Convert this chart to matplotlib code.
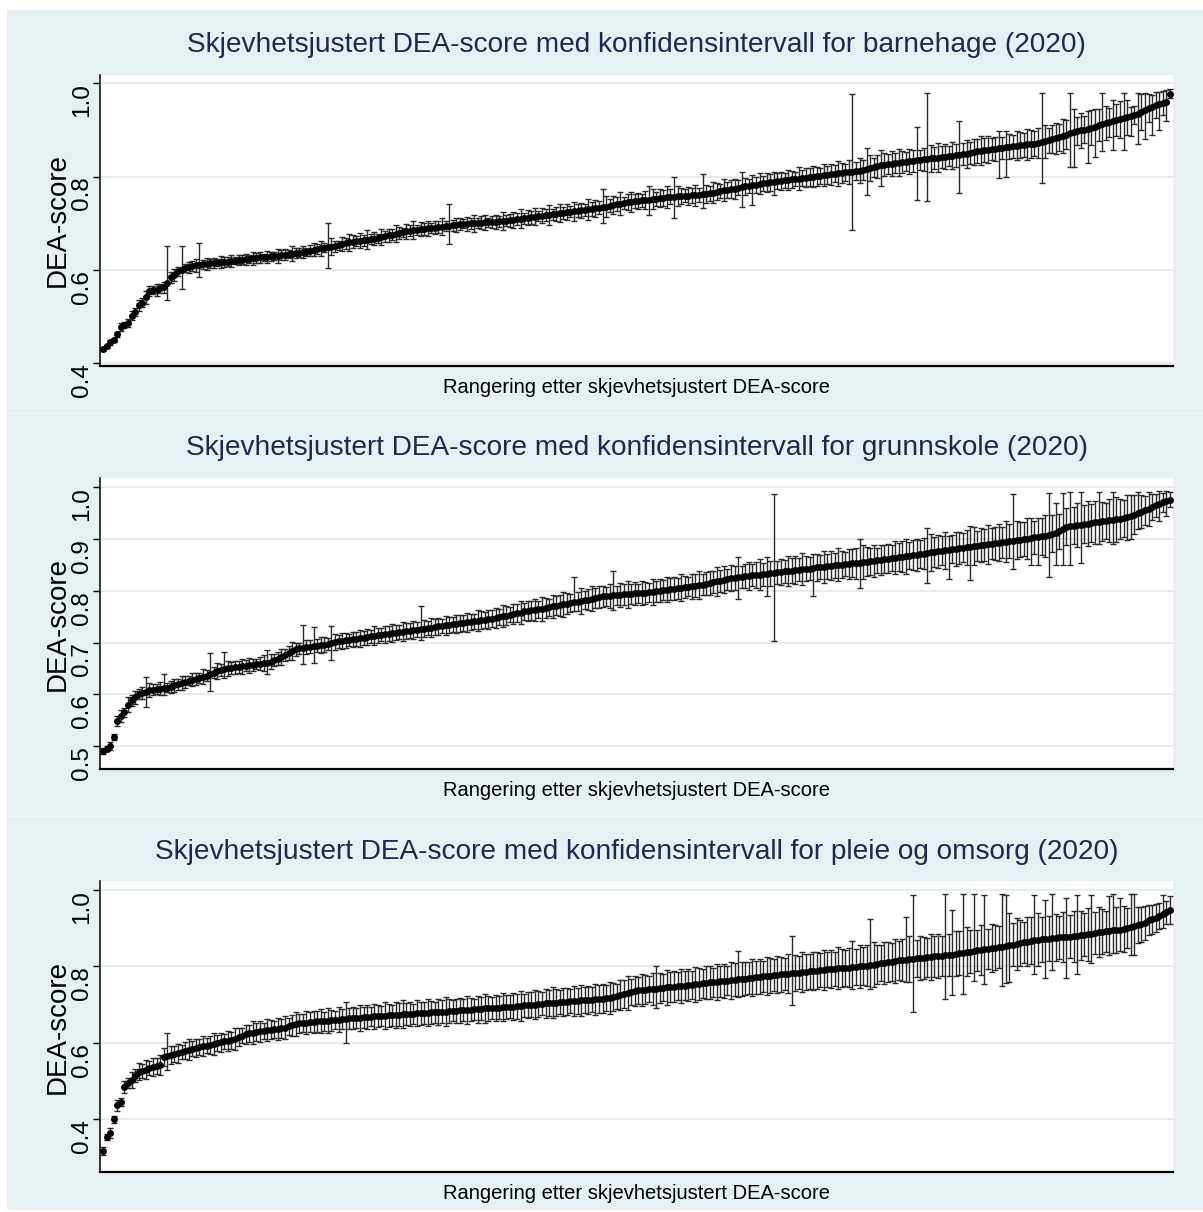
import numpy as np
import matplotlib
matplotlib.use("Agg")
import matplotlib.pyplot as plt
from matplotlib import font_manager
from matplotlib.patches import Rectangle

# ---------------- DATA (values in thousandths of a DEA-score) ----------------
titles = [
    "Skjevhetsjustert DEA-score med konfidensintervall for barnehage (2020)",
    "Skjevhetsjustert DEA-score med konfidensintervall for grunnskole (2020)",
    "Skjevhetsjustert DEA-score med konfidensintervall for pleie og omsorg (2020)",
]
x_label = "Rangering etter skjevhetsjustert DEA-score"
y_label = "DEA-score"

ticks_barnehage = [0.4, 0.6, 0.8, 1.0]
ticks_grunnskole = [0.5, 0.6, 0.7, 0.8, 0.9, 1.0]
ticks_pleie = [0.4, 0.6, 0.8, 1.0]

barnehage_score = [
    430, 436, 445, 450, 462, 478, 482, 486, 502, 510,
    524, 530, 541, 555, 557, 558, 561, 563, 572, 584,
    590, 597, 600, 604, 606, 608, 610, 611, 612, 613,
    614, 615, 616, 617, 617, 618, 619, 620, 621, 622,
    623, 624, 625, 626, 627, 627, 628, 629, 630, 631,
    632, 633, 634, 635, 636, 637, 638, 639, 641, 643,
    645, 647, 648, 649, 650, 651, 653, 655, 657, 659,
    661, 662, 663, 664, 665, 666, 667, 668, 670, 672,
    674, 676, 678, 680, 681, 683, 684, 685, 686, 687,
    688, 689, 690, 691, 692, 693, 694, 695, 696, 697,
    698, 699, 699, 700, 700, 701, 701, 702, 702, 703,
    703, 704, 705, 706, 707, 708, 709, 710, 711, 712,
    713, 714, 715, 716, 717, 718, 719, 720, 722, 723,
    724, 725, 726, 727, 728, 729, 730, 731, 732, 733,
    734, 736, 738, 740, 741, 742, 744, 745, 746, 747,
    748, 749, 750, 751, 752, 753, 754, 755, 756, 757,
    757, 758, 758, 759, 759, 760, 760, 761, 762, 763,
    764, 766, 768, 770, 771, 772, 773, 774, 776, 778,
    779, 781, 782, 783, 785, 786, 787, 788, 789, 790,
    791, 792, 793, 794, 795, 796, 797, 798, 799, 800,
    801, 802, 803, 804, 805, 806, 807, 808, 809, 810,
    811, 812, 813, 814, 816, 818, 820, 822, 824, 826,
    827, 828, 829, 830, 831, 832, 833, 834, 835, 836,
    837, 838, 839, 840, 841, 842, 843, 844, 845, 846,
    847, 848, 849, 851, 853, 855, 856, 857, 858, 859,
    860, 861, 862, 863, 864, 865, 866, 867, 868, 869,
    870, 871, 872, 874, 876, 878, 880, 882, 884, 887,
    890, 893, 895, 897, 899, 901, 903, 905, 907, 910,
    913, 915, 917, 919, 921, 923, 925, 927, 929, 932,
    935, 939, 943, 947, 950, 953, 956, 958, 961, 978,
]
barnehage_halfwidth = [
    3, 4, 5, 4, 6, 9, 7, 8, 10, 9,
    12, 10, 14, 11, 9, 13, 10, 12, 15, 11,
    13, 10, 15, 9, 12, 11, 14, 13, 10, 12,
    9, 11, 8, 12, 10, 9, 13, 8, 11, 10,
    12, 9, 14, 10, 11, 8, 13, 10, 9, 15,
    10, 12, 9, 16, 11, 10, 13, 9, 12, 14,
    11, 16, 10, 13, 18, 12, 10, 15, 11, 19,
    13, 10, 16, 12, 20, 11, 14, 10, 17, 12,
    14, 11, 18, 13, 10, 16, 12, 19, 11, 15,
    12, 17, 10, 14, 13, 18, 11, 16, 12, 15,
    13, 10, 15, 12, 18, 11, 14, 16, 10, 13,
    15, 12, 19, 11, 14, 17, 13, 20, 12, 16,
    14, 18, 11, 16, 13, 21, 12, 15, 19, 13,
    17, 12, 20, 14, 16, 13, 22, 15, 18, 14,
    16, 23, 14, 19, 15, 25, 13, 17, 21, 15,
    18, 14, 20, 16, 22, 15, 19, 17, 24, 16,
    15, 21, 17, 14, 19, 16, 23, 15, 18, 20,
    16, 22, 18, 15, 24, 17, 19, 21, 16, 20,
    18, 15, 21, 17, 23, 16, 20, 18, 25, 17,
    19, 16, 22, 18, 15, 24, 17, 20, 19, 23,
    20, 17, 24, 19, 22, 18, 26, 21, 19, 25,
    23, 20, 27, 22, 19, 28, 21, 25, 20, 24,
    22, 26, 21, 29, 24, 20, 27, 23, 30, 22,
    25, 21, 28, 24, 31, 23, 26, 22, 29, 25,
    27, 24, 30, 23, 28, 26, 32, 25, 29, 24,
    26, 30, 24, 33, 27, 25, 31, 28, 26, 34,
    29, 26, 32, 28, 35, 27, 30, 33, 28, 36,
    31, 28, 35, 30, 37, 29, 33, 38, 30, 34,
    33, 36, 31, 39, 34, 40, 32, 37, 35, 20,
    36, 39, 34, 30, 32, 28, 26, 25, 22, 10,
]
# (rank index, lower bound, upper bound) for the visibly wide intervals
barnehage_wide_ci = [
    (18, 535, 652), (22, 560, 652), (27, 585, 657), (63, 604, 700),
    (97, 656, 742), (140, 700, 774), (153, 718, 779), (160, 712, 800),
    (168, 733, 806), (179, 736, 811), (182, 740, 804), (188, 761, 810),
    (210, 686, 978), (214, 761, 862), (218, 780, 857), (228, 750, 907),
    (231, 748, 980), (240, 765, 920), (251, 798, 897), (253, 800, 897),
    (263, 787, 979), (271, 820, 979), (272, 820, 944), (276, 830, 940),
    (278, 843, 946), (280, 854, 980), (283, 858, 965), (286, 858, 980),
    (288, 887, 950), (290, 869, 980), (292, 880, 980), (294, 890, 975),
    (296, 900, 982), (298, 920, 985),
]

grunnskole_score = [
    490, 495, 500, 518, 548, 558, 565, 580, 588, 594,
    600, 602, 605, 608, 609, 610, 611, 612, 613, 614,
    617, 619, 622, 624, 626, 628, 630, 632, 634, 636,
    639, 642, 645, 647, 649, 650, 651, 652, 653, 654,
    655, 656, 657, 658, 659, 660, 661, 663, 666, 669,
    672, 676, 680, 684, 687, 689, 690, 691, 692, 693,
    694, 695, 696, 697, 699, 701, 702, 703, 704, 705,
    706, 707, 708, 709, 711, 712, 713, 714, 715, 716,
    717, 718, 719, 720, 721, 722, 723, 724, 725, 726,
    727, 728, 729, 730, 731, 732, 733, 734, 735, 736,
    737, 738, 739, 740, 741, 742, 743, 744, 745, 746,
    748, 749, 751, 752, 754, 755, 757, 758, 760, 761,
    762, 763, 764, 765, 767, 768, 770, 771, 772, 774,
    775, 776, 778, 779, 780, 782, 783, 785, 786, 788,
    789, 789, 790, 791, 791, 792, 793, 793, 794, 795,
    795, 796, 796, 797, 798, 799, 800, 801, 802, 803,
    804, 805, 806, 807, 808, 809, 810, 811, 812, 814,
    815, 817, 818, 819, 821, 822, 824, 825, 826, 827,
    828, 829, 830, 830, 831, 832, 833, 834, 835, 836,
    837, 838, 838, 839, 840, 841, 842, 843, 843, 844,
    845, 846, 846, 847, 848, 849, 850, 850, 851, 852,
    853, 853, 854, 855, 856, 857, 858, 859, 860, 861,
    862, 863, 864, 865, 866, 867, 868, 869, 870, 871,
    872, 873, 874, 875, 876, 877, 878, 879, 880, 881,
    882, 883, 884, 885, 886, 887, 888, 889, 890, 891,
    892, 893, 894, 895, 896, 897, 898, 899, 900, 901,
    902, 903, 904, 905, 906, 908, 910, 911, 915, 920,
    924, 925, 926, 927, 928, 929, 930, 931, 932, 933,
    934, 935, 936, 937, 938, 939, 940, 942, 944, 947,
    950, 953, 956, 959, 962, 965, 968, 971, 973, 976,
]
grunnskole_halfwidth = [
    6, 5, 7, 6, 10, 12, 9, 14, 11, 13,
    10, 12, 9, 14, 11, 10, 13, 12, 9, 11,
    12, 10, 14, 11, 9, 13, 12, 10, 15, 11,
    13, 11, 16, 12, 10, 14, 11, 13, 12, 15,
    11, 14, 12, 10, 13, 16, 12, 14, 11, 13,
    15, 12, 14, 17, 13, 11, 16, 14, 12, 15,
    13, 16, 14, 12, 17, 15, 13, 16, 14, 12,
    15, 13, 17, 14, 16, 12, 18, 15, 13, 16,
    14, 17, 15, 13, 18, 16, 14, 17, 15, 19,
    16, 14, 18, 15, 17, 13, 19, 16, 14, 18,
    17, 15, 19, 16, 14, 20, 17, 15, 18, 16,
    19, 16, 21, 18, 15, 20, 17, 22, 16, 19,
    18, 21, 16, 23, 19, 17, 22, 18, 20, 24,
    20, 17, 23, 19, 25, 18, 21, 24, 19, 22,
    21, 19, 24, 20, 18, 23, 21, 26, 20, 22,
    19, 23, 21, 18, 25, 20, 22, 19, 24, 21,
    22, 20, 26, 21, 19, 24, 22, 27, 20, 23,
    24, 21, 28, 22, 26, 20, 25, 23, 29, 21,
    23, 27, 21, 25, 30, 22, 26, 24, 28, 22,
    25, 22, 29, 24, 27, 23, 31, 25, 22, 28,
    26, 23, 30, 25, 28, 24, 32, 26, 23, 29,
    27, 30, 25, 33, 28, 26, 31, 24, 29, 27,
    28, 25, 32, 27, 30, 34, 26, 29, 31, 27,
    30, 27, 35, 29, 32, 28, 36, 30, 27, 33,
    31, 28, 34, 30, 37, 29, 33, 31, 38, 30,
    32, 36, 30, 39, 33, 31, 37, 34, 32, 40,
    34, 31, 38, 35, 41, 33, 36, 39, 34, 42,
    36, 40, 35, 43, 38, 37, 44, 36, 41, 39,
    38, 35, 42, 37, 44, 39, 36, 43, 40, 38,
    30, 32, 28, 26, 25, 22, 20, 18, 16, 14,
]
grunnskole_wide_ci = [
    (12, 575, 634), (17, 598, 639), (30, 606, 680), (34, 632, 682),
    (46, 640, 685), (56, 658, 734), (59, 660, 730), (64, 667, 731),
    (89, 705, 770), (132, 760, 827), (143, 762, 838), (178, 784, 865),
    (186, 790, 865), (188, 703, 987), (199, 790, 872), (212, 805, 900),
    (231, 815, 921), (237, 823, 905), (243, 820, 925), (255, 842, 987),
    (260, 850, 940), (262, 850, 940), (265, 826, 989), (267, 850, 970),
    (269, 850, 989), (271, 850, 990), (274, 854, 990), (279, 890, 990),
    (283, 890, 990), (288, 900, 985), (290, 920, 990), (293, 925, 990),
    (296, 935, 992), (298, 945, 992),
]

pleie_score = [
    317, 354, 364, 400, 437, 445, 485, 495, 503, 514,
    524, 527, 530, 534, 537, 540, 542, 563, 565, 568,
    571, 573, 576, 579, 582, 585, 587, 589, 591, 593,
    595, 597, 600, 602, 604, 605, 607, 611, 615, 619,
    622, 625, 627, 629, 630, 632, 633, 634, 635, 636,
    638, 640, 643, 646, 649, 651, 652, 653, 654, 655,
    656, 657, 657, 658, 659, 660, 661, 662, 663, 664,
    665, 665, 666, 667, 668, 668, 669, 670, 670, 671,
    672, 672, 673, 674, 675, 675, 676, 676, 677, 678,
    678, 679, 680, 680, 681, 682, 682, 683, 684, 684,
    685, 686, 686, 687, 688, 688, 689, 690, 690, 691,
    692, 692, 693, 694, 695, 695, 696, 697, 698, 699,
    700, 700, 701, 702, 703, 704, 705, 705, 706, 707,
    708, 709, 709, 710, 711, 712, 712, 713, 714, 715,
    716, 717, 718, 720, 722, 725, 728, 731, 733, 735,
    737, 738, 739, 740, 741, 742, 743, 744, 745, 746,
    747, 748, 749, 750, 751, 752, 753, 754, 756, 757,
    758, 759, 760, 761, 762, 763, 764, 765, 766, 767,
    768, 770, 771, 772, 773, 774, 775, 776, 777, 778,
    779, 780, 781, 782, 783, 784, 785, 786, 787, 788,
    789, 790, 791, 792, 793, 794, 795, 796, 796, 797,
    798, 799, 800, 801, 802, 803, 805, 806, 808, 809,
    811, 812, 814, 816, 817, 818, 819, 820, 821, 822,
    823, 824, 825, 826, 827, 828, 829, 830, 831, 833,
    835, 836, 838, 839, 840, 842, 843, 845, 846, 848,
    849, 851, 852, 854, 855, 857, 859, 861, 863, 865,
    867, 869, 870, 871, 872, 873, 874, 875, 876, 877,
    877, 878, 879, 880, 882, 883, 884, 886, 888, 890,
    891, 892, 893, 894, 895, 896, 898, 900, 903, 906,
    908, 910, 913, 921, 924, 927, 932, 937, 942, 948,
]
pleie_halfwidth = [
    10, 8, 12, 9, 14, 11, 16, 13, 20, 17,
    22, 18, 25, 19, 24, 21, 26, 23, 19, 24,
    20, 25, 18, 22, 27, 19, 24, 21, 26, 20,
    23, 28, 21, 25, 19, 27, 22, 29, 24, 20,
    26, 22, 30, 24, 27, 21, 29, 25, 23, 28,
    24, 29, 22, 27, 31, 25, 23, 30, 26, 28,
    27, 31, 25, 33, 28, 24, 32, 26, 30, 27,
    29, 26, 34, 28, 31, 25, 33, 29, 27, 35,
    30, 27, 33, 29, 36, 28, 31, 26, 34, 30,
    28, 35, 30, 27, 33, 29, 37, 31, 28, 32,
    33, 29, 36, 31, 28, 35, 30, 38, 32, 29,
    34, 30, 37, 32, 29, 36, 33, 39, 31, 35,
    32, 38, 34, 30, 37, 33, 40, 35, 31, 36,
    35, 31, 39, 34, 41, 33, 37, 32, 40, 36,
    38, 34, 42, 36, 33, 40, 37, 44, 35, 39,
    36, 41, 38, 34, 43, 37, 40, 35, 45, 39,
    40, 37, 44, 39, 42, 36, 46, 41, 38, 43,
    42, 38, 47, 40, 44, 39, 48, 43, 41, 45,
    44, 41, 49, 43, 46, 40, 50, 45, 42, 48,
    46, 42, 51, 44, 48, 43, 52, 47, 45, 50,
    48, 44, 53, 47, 50, 45, 55, 49, 46, 52,
    50, 47, 56, 49, 53, 48, 58, 51, 47, 54,
    52, 49, 58, 51, 55, 50, 60, 53, 49, 57,
    55, 51, 61, 53, 58, 52, 63, 56, 50, 59,
    57, 53, 64, 55, 60, 54, 66, 58, 52, 62,
    59, 55, 66, 57, 63, 56, 68, 60, 54, 64,
    61, 57, 69, 59, 65, 58, 70, 62, 56, 66,
    60, 56, 67, 58, 64, 57, 69, 61, 55, 65,
    58, 54, 63, 56, 61, 53, 60, 52, 57, 50,
    48, 45, 44, 40, 38, 36, 34, 32, 30, 28,
]
pleie_wide_ci = [
    (18, 529, 626), (68, 600, 707), (155, 690, 800), (178, 720, 840),
    (193, 700, 880), (210, 740, 866), (215, 740, 925), (225, 760, 930),
    (227, 680, 987), (236, 715, 990), (238, 725, 948), (241, 728, 990),
    (244, 763, 990), (247, 754, 987), (252, 750, 990), (253, 757, 988),
    (254, 760, 940), (261, 780, 987), (264, 770, 975), (266, 790, 990),
    (270, 770, 980), (273, 780, 987), (277, 810, 987), (282, 830, 985),
    (283, 834, 990), (285, 840, 980), (288, 830, 990), (289, 830, 990),
    (297, 900, 987), (299, 910, 985),
]

# ---------------- FIGURE ----------------
W, H = 1203, 1212
DPI = 100
fig = plt.figure(figsize=(W / DPI, H / DPI), dpi=DPI, facecolor="white")

names = {f.name for f in font_manager.fontManager.ttflist}
if "Liberation Sans Narrow" in names:
    NARROW = ["Liberation Sans Narrow", "DejaVu Sans"]
    title_fs, xlab_fs = 22.5, 16
else:
    NARROW = ["Liberation Sans", "DejaVu Sans"]
    title_fs, xlab_fs = 20.2, 14.5
REG = ["Liberation Sans", "DejaVu Sans"]

BG = "#e6eff1"
SEP = "#f1f6f7"


def px_rect(x0, y0, x1, y1, color):
    fig.patches.append(Rectangle((x0 / W, 1 - y1 / H), (x1 - x0) / W, (y1 - y0) / H,
                                 transform=fig.transFigure, facecolor=color,
                                 edgecolor="none", zorder=-10))


px_rect(7, 10, W, 412.5, BG)
px_rect(7, 412.5, W, 414, SEP)
px_rect(7, 414, W, 815.5, BG)
px_rect(7, 815.5, W, 817, SEP)
px_rect(7, 817, W, 1210, BG)

panels = [
    dict(score=barnehage_score, hw=barnehage_halfwidth, wide=barnehage_wide_ci,
         ticks=ticks_barnehage, top=74.5, bot=366, ylim=(0.3942, 1.0189), tb=52),
    dict(score=grunnskole_score, hw=grunnskole_halfwidth, wide=grunnskole_wide_ci,
         ticks=ticks_grunnskole, top=478, bot=769, ylim=(0.4555, 1.018), tb=455),
    dict(score=pleie_score, hw=pleie_halfwidth, wide=pleie_wide_ci,
         ticks=ticks_pleie, top=881, bot=1172, ylim=(0.2621, 1.0235), tb=859),
]

for k, p in enumerate(panels):
    left, right = 100, 1173
    ax = fig.add_axes([left / W, 1 - p["bot"] / H, (right - left) / W, (p["bot"] - p["top"]) / H])
    ax.set_zorder(5)
    ax.set_facecolor("white")
    score = np.array(p["score"], dtype=float) / 1000.0
    hw = np.array(p["hw"], dtype=float) / 1000.0
    lo = score - hw
    hi = score + hw
    for idx, l, h in p["wide"]:
        lo[idx] = l / 1000.0
        hi[idx] = h / 1000.0
    x = np.arange(len(score))
    ax.errorbar(x, score, yerr=[score - lo, hi - score], fmt="none", ecolor="#2a2a2a",
                elinewidth=1.0, capsize=1.9, capthick=1.0, zorder=2)
    ax.plot(x, score, "o", color="black", ms=5.0, mew=0, zorder=3)
    ax.set_xlim(-0.85, len(score) - 1 + 0.85)
    ax.set_ylim(*p["ylim"])
    ax.set_xticks([])
    ax.set_yticks(p["ticks"])
    ax.set_yticklabels([f"{t:.1f}" for t in p["ticks"]])
    for lab in ax.get_yticklabels():
        lab.set_rotation(90)
        lab.set_ha("center")
        lab.set_va("top")
        lab.set_fontfamily(REG)
        lab.set_fontsize(17.5)
        lab.set_color("black")
    ax.tick_params(axis="y", length=5, width=1.0, pad=8, direction="out", colors="black")
    ax.grid(axis="y", color="#e2ebee", lw=1.3)
    ax.set_axisbelow(True)
    for s in ("top", "right"):
        ax.spines[s].set_visible(False)
    ax.spines["left"].set_linewidth(1.1)
    ax.spines["bottom"].set_linewidth(1.6)

    fig.text(636.5 / W, 1 - p["tb"] / H, titles[k], ha="center", va="baseline",
             color="#1d2a4d", fontsize=title_fs, family=NARROW)
    fig.text(636.5 / W, 1 - (p["bot"] + 27) / H, x_label, ha="center", va="baseline",
             color="black", fontsize=xlab_fs, family=NARROW)
    fig.text(58 / W, 1 - ((p["top"] + p["bot"]) / 2) / H, y_label, rotation=90,
             ha="center", va="center", color="black", fontsize=20, family=REG)

fig.savefig("out.png", dpi=DPI, facecolor="white")
